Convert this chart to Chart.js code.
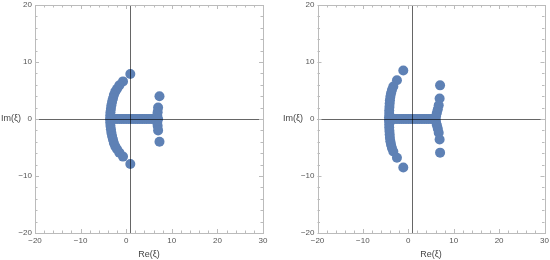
<!DOCTYPE html>
<html>
<head>
<meta charset="utf-8">
<script src="https://cdn.jsdelivr.net/npm/chart.js@4/dist/chart.umd.min.js"></script>
<style>
  body { margin: 0; background: #fff; }
  .box { position: absolute; top: 0; width: 275px; height: 260px; }
</style>
</head>
<body>
<div class="box" style="left:0"><canvas id="c1" width="275" height="260"></canvas></div>
<div class="box" style="left:275px"><canvas id="c2" width="275" height="260"></canvas></div>
<script>
// left panel: points (Re, Im)
var leftRe = [0.9, -0.7, -1.5, -2.0, -2.4, -2.7, -2.9, -3.1, -3.25, -3.35, -3.45, -3.5, -3.55,
              -3.5, -3.45, -3.35, -3.25, -3.1, -2.9, -2.7, -2.4, -2.0, -1.5, -0.7, 0.9,
              -3.0, -2.5, -2.0, -1.5, -1.0, -0.5, 0.0, 0.5, 1.0, 1.5, 2.0, 2.5, 3.0, 3.5, 4.0, 4.5, 5.0, 5.5, 6.0, 6.5,
              7.3, 7.0, 6.9, 6.8, 7.0, 6.8, 6.9, 7.0, 7.3];
var leftIm = [7.9, 6.6, 5.9, 5.3, 4.8, 4.2, 3.6, 3.0, 2.4, 1.8, 1.2, 0.6, 0.0,
              -0.6, -1.2, -1.8, -2.4, -3.0, -3.6, -4.2, -4.8, -5.3, -5.9, -6.6, -7.9,
              0, 0, 0, 0, 0, 0, 0, 0, 0, 0, 0, 0, 0, 0, 0, 0, 0, 0, 0, 0,
              4.0, 2.0, 1.2, 0.6, 0.0, -0.6, -1.2, -2.0, -4.0];

// right panel
var rightRe = [-1.1, -2.5, -3.3, -3.6, -3.8, -3.95, -4.05, -4.1, -4.15, -4.2, -4.2, -4.25,
               -4.25, -4.2, -4.2, -4.15, -4.1, -4.05, -3.95, -3.8, -3.6, -3.3, -2.5, -1.1,
               -4.0, -3.5, -3.0, -2.5, -2.0, -1.5, -1.0, -0.5, 0.0, 0.5, 1.0, 1.5, 2.0, 2.5, 3.0, 3.5, 4.0, 4.5, 5.0, 5.5, 6.0,
               7.0, 6.9, 6.7, 6.5, 6.3, 6.1, 6.1, 6.3, 6.5, 6.7, 6.9, 7.0];
var rightIm = [8.5, 6.8, 5.7, 5.1, 4.5, 3.9, 3.3, 2.7, 2.1, 1.5, 0.9, 0.3,
               -0.3, -0.9, -1.5, -2.1, -2.7, -3.3, -3.9, -4.5, -5.1, -5.7, -6.8, -8.5,
               0, 0, 0, 0, 0, 0, 0, 0, 0, 0, 0, 0, 0, 0, 0, 0, 0, 0, 0, 0, 0,
               5.9, 3.6, 2.4, 1.7, 1.1, 0.5, -0.5, -1.1, -1.7, -2.4, -3.6, -5.9];

var xTicks = [-20, -10, 0, 10, 20, 30];
var yTicks = [-20, -10, 0, 10, 20];
var xLabel = 'Re(\u03BE)';
var yLabel = 'Im(\u03BE)';
var axisOriginX = 0.9;

var dotColor = 'rgb(94,129,181)';
var tickFont = { family: 'Liberation Sans, Arial, sans-serif', size: 8 };

function minus(v){ return String(v).replace('-', '\u2212'); }

var framePlugin = {
	id: 'frame',
	afterDatasetsDraw: function(chart){
		var ctx = chart.ctx, a = chart.chartArea, xs = chart.scales.x, ys = chart.scales.y;
		ctx.save();
		// axes through the origin
		ctx.strokeStyle = 'rgba(0,0,0,0.6)';
		ctx.lineWidth = 1;
		var px = Math.round(xs.getPixelForValue(axisOriginX)) + 0.5;
		var py = Math.round(ys.getPixelForValue(0)) + 0.5;
		ctx.beginPath();
		ctx.moveTo(px, a.top); ctx.lineTo(px, a.bottom);
		ctx.moveTo(a.left, py); ctx.lineTo(a.right, py);
		ctx.stroke();
		// frame
		ctx.strokeStyle = '#bbb';
		ctx.strokeRect(Math.round(a.left) + 0.5, Math.round(a.top) + 0.5,
			Math.round(a.right - a.left), Math.round(a.bottom - a.top));
		ctx.beginPath();
		for (var v = -20; v <= 30; v += 2){
			var x = Math.round(xs.getPixelForValue(v)) + 0.5;
			var len = (v % 10 === 0) ? 4 : 2.5;
			ctx.moveTo(x, a.bottom); ctx.lineTo(x, a.bottom - len);
			ctx.moveTo(x, a.top); ctx.lineTo(x, a.top + len);
		}
		for (var w = -20; w <= 20; w += 2){
			var y = Math.round(ys.getPixelForValue(w)) + 0.5;
			var l2 = (w % 10 === 0) ? 4 : 2.5;
			ctx.moveTo(a.left, y); ctx.lineTo(a.left + l2, y);
			ctx.moveTo(a.right, y); ctx.lineTo(a.right - l2, y);
		}
		ctx.stroke();
		// horizontal y label
		ctx.fillStyle = '#444';
		ctx.font = '9px Liberation Sans, Arial, sans-serif';
		ctx.textAlign = 'left';
		ctx.textBaseline = 'middle';
		ctx.fillText(yLabel, chart.options.imX, ys.getPixelForValue(0));
		ctx.restore();
	}
};

function makeChart(id, re, im, yWidth, padRight, imX){
	var pts = re.map(function(r, i){ return { x: r, y: im[i] }; });
	return new Chart(document.getElementById(id), {
		type: 'scatter',
		data: { datasets: [{ data: pts, backgroundColor: dotColor, borderWidth: 0, pointRadius: 5, pointHoverRadius: 5 }] },
		options: {
			responsive: false,
			animation: false,
			imX: imX,
			layout: { padding: { top: 5, right: padRight, left: 0, bottom: 0 } },
			plugins: { legend: { display: false }, tooltip: { enabled: false } },
			events: [],
			scales: {
				x: {
					min: -20, max: 30,
					afterBuildTicks: function(s){ s.ticks = xTicks.map(function(v){ return { value: v }; }); },
					afterFit: function(s){ s.height = 27; s.paddingLeft = 0; s.paddingRight = 0; },
					grid: { display: false, drawTicks: false },
					border: { display: false },
					ticks: { autoSkip: false, maxRotation: 0, padding: 3, color: '#555', font: tickFont, callback: minus },
					title: { display: true, text: xLabel, color: '#444', padding: 0, font: { family: 'Liberation Sans, Arial, sans-serif', size: 9 } }
				},
				y: {
					min: -20, max: 20,
					afterBuildTicks: function(s){ s.ticks = yTicks.map(function(v){ return { value: v }; }); },
					afterFit: function(s){ s.width = yWidth; s.paddingTop = 0; s.paddingBottom = 0; },
					grid: { display: false, drawTicks: false },
					border: { display: false },
					ticks: { autoSkip: false, padding: 3, color: '#555', font: tickFont, callback: minus }
				}
			}
		},
		plugins: [framePlugin]
	});
}

makeChart('c1', leftRe, leftIm, 35, 12, 1);
makeChart('c2', rightRe, rightIm, 42.5, 5.5, 8);
</script>
</body>
</html>
